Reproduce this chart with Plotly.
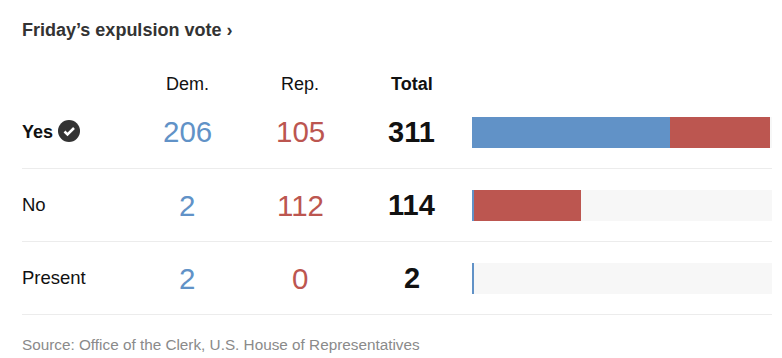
import plotly.graph_objects as go

W, H = 782, 358
rows = ["Yes", "No", "Present"]
dem = [206, 2, 2]
rep = [105, 112, 0]
total = [311, 114, 2]
track = [1.4, 198.4, 310.4]  # unfilled remainder of the scale
columns = ["Dem.", "Rep.", "Total"]
title = "Friday’s expulsion vote ›"
source = "Source: Office of the Clerk, U.S. House of Representatives"

BLUE, RED, TRACK = "#6192c7", "#bc5650", "#f7f7f7"
FONT = "Liberation Sans"


def px(x):
    return x / W


def py(y):
    return 1 - y / H


def text(x, y, s, size, color, anchor="center", bold=False):
    return dict(x=px(x), y=py(y), xref="paper", yref="paper", text=f"<b>{s}</b>" if bold else s,
                showarrow=False, xanchor=anchor, yanchor="middle",
                font=dict(family=FONT, size=size, color=color))


fig = go.Figure()
for name, vals, color in [("Dem.", dem, BLUE), ("Rep.", rep, RED), ("", track, TRACK)]:
    fig.add_trace(go.Bar(y=rows, x=vals, name=name, orientation="h",
                         marker=dict(color=color, line=dict(width=0)), hoverinfo="skip"))

row_y = [132, 205, 278]
label_y = [132, 204.5, 277]
col_x = [187, 300, 412]
LEFT = 20
ann = [text(LEFT, 30, title, 18, "#333333", "left", True)]
ann += [text(x, 84, c, 18, "#111111", bold=(c == "Total")) for x, c in zip(col_x, columns)]
for i, r in enumerate(rows):
    y = row_y[i]
    ann.append(text(LEFT, label_y[i], r, 18 if i == 0 else 18.5, "#111111", "left", bold=(i == 0)))
    ann.append(text(col_x[0], y, str(dem[i]), 29.5, BLUE))
    ann.append(text(col_x[1], y, str(rep[i]), 29.5, RED))
    ann.append(text(col_x[2], y, str(total[i]), 29, "#111111", bold=True))
ann.append(text(LEFT, 344, source, 15.3, "#8a8a8a", "left"))

shapes = [dict(type="line", xref="paper", yref="paper", x0=px(22), x1=px(772), y0=py(y), y1=py(y),
               line=dict(color="#ececec", width=1)) for y in (168.5, 241.5, 314.5)]
shapes.append(dict(type="circle", xref="paper", yref="paper", x0=px(58), x1=px(80), y0=py(142), y1=py(120),
                   fillcolor="#333333", line=dict(width=0)))
shapes.append(dict(type="path", xref="paper", yref="paper",
                   path=f"M {px(64.5)} {py(131.5)} L {px(67.5)} {py(134.5)} L {px(74)} {py(128)}",
                   line=dict(color="#ffffff", width=2.5)))

fig.update_layout(
    width=W, height=H, margin=dict(l=0, r=0, t=0, b=0), autosize=False,
    paper_bgcolor="#ffffff", plot_bgcolor="#ffffff",
    barmode="stack", bargap=1 - 31 / 73, showlegend=False,
    xaxis=dict(domain=[px(472), px(772)], range=[0, 312.4], visible=False, fixedrange=True),
    yaxis=dict(domain=[py(315), py(96)], categoryorder="array", categoryarray=rows,
               range=[2.5, -0.5], visible=False, fixedrange=True),
    annotations=ann, shapes=shapes,
)
fig.write_html("out.html", config={"displayModeBar": False},
               post_script="document.body.style.margin='0';document.body.style.overflow='hidden';")
